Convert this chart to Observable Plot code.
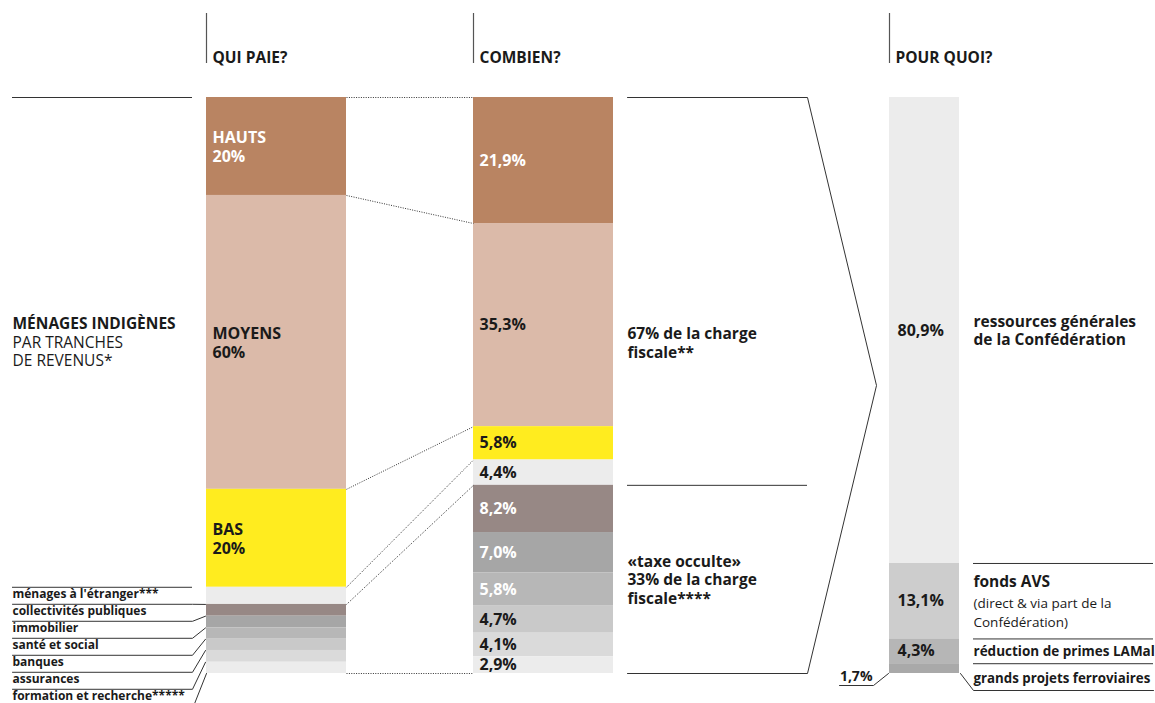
<!DOCTYPE html>
<html><head><meta charset="utf-8">
<script src="https://cdn.jsdelivr.net/npm/d3@7"></script>
<script src="https://cdn.jsdelivr.net/npm/@observablehq/plot@0.6"></script>
<style>
html,body{margin:0;padding:0;background:#fff}
</style>
</head><body><div id="chart"></div>
<script>
// ---------- DATA ----------
const headers = ["QUI PAIE?", "COMBIEN?", "POUR QUOI?"];
const householdTranches = ["HAUTS", "MOYENS", "BAS"];
const householdShares = [20, 60, 20];
const householdLabels = ["HAUTS\n20%", "MOYENS\n60%", "BAS\n20%"];
const otherPayers = ["ménages à l'étranger***", "collectivités publiques", "immobilier", "santé et social", "banques", "assurances", "formation et recherche*****"];
// nominal (non-proportional) band sizes of the other payers in the left column, in household-% units as drawn
const otherPayerBand = [3.5, 2.4, 2.4, 2.3, 2.3, 2.4, 2.3];
const amountValues = [21.9, 35.3, 5.8, 4.4, 8.2, 7.0, 5.8, 4.7, 4.1, 2.9];
const amountLabels = ["21,9%", "35,3%", "5,8%", "4,4%", "8,2%", "7,0%", "5,8%", "4,7%", "4,1%", "2,9%"];
const useCategories = ["ressources générales\nde la Confédération", "fonds AVS", "réduction de primes LAMal", "grands projets ferroviaires"];
const useValues = [80.9, 13.1, 4.3, 1.7];
const useLabels = ["80,9%", "13,1%", "4,3%", "1,7%"];
const groupLabel = ["MÉNAGES INDIGÈNES", "PAR TRANCHES\nDE REVENUS*"];
const chargeLabels = ["67% de la charge\nfiscale**", "«taxe occulte»\n33% de la charge\nfiscale****"];
const avsNote = "(direct & via part de la\nConfédération)";

// ---------- STYLE ----------
const whoColors = ["#b98462", "#dbbaa9", "#ffec1f", "#ececec", "#978885", "#a6a6a6", "#b7b7b7", "#c9c9c9", "#dadada", "#ececec"];
const amountColors = whoColors;
const amountText = ["#fff", "#1a1a1a", "#1a1a1a", "#1a1a1a", "#fff", "#fff", "#fff", "#1a1a1a", "#1a1a1a", "#1a1a1a"];
const householdText = ["#fff", "#1a1a1a", "#1a1a1a"];
const useColors = ["#ececec", "#cdcdcd", "#b6b6b6", "#a9a9a9"];
const INK = "#1a1a1a", LINE = "#333";
const FS = 15.5;

// ---------- LAYOUT ----------
const W = 1155, H = 703, TOP = 97, BOTTOM = 673;
const PX = (BOTTOM - TOP) / 100;
const u = px => px / PX;
const col = {who: [206, 346], amount: [473, 613], use: [889, 959]};
const leftX = [12, 192];
const bracketX = [627, 807, 876];
const rightX = [973, 1153];
const FONT = "'Open Sans', 'Noto Sans', sans-serif";

// ---------- DERIVED ----------
function stack(values) {
  const tot = d3.sum(values);
  const ends = d3.cumsum(values.map(v => v * 100 / tot));
  return values.map((v, i) => ({i, y1: i ? ends[i - 1] : 0, y2: ends[i], ym: ((i ? ends[i - 1] : 0) + ends[i]) / 2}));
}
const whoValues = householdShares.concat(otherPayerBand);
const who = stack(whoValues).map((d, i) => ({...d, fill: whoColors[i]}));
const amount = stack(amountValues).map((d, i) => ({...d, fill: amountColors[i], label: amountLabels[i], tc: amountText[i]}));
const use = stack(useValues).map((d, i) => ({...d, fill: useColors[i], label: useLabels[i], cat: useCategories[i]}));
const hhEnd = who[2].y2;

// dotted links between boundaries
const linkIdx = [0, 1, 2, 3, 4];
const links = linkIdx.map(i => ({a: who[i].y1, b: amount[i].y1}))
  .concat([{a: 100, b: 100}]);

// left stub label rows
const stubs = otherPayers.map((name, i) => ({
  name, ty: hhEnd + u(6.5 + 17 * i), ly: hhEnd + u(17 * (i + 1)), end: who[3 + i].y2, last: i === otherPayers.length - 1
}));
const stubLines = stubs.flatMap((s, i) => s.last
  ? [{k: i, x: leftX[1] + 1, y: s.ly}, {k: i, x: col.who[0], y: s.end}]
  : [{k: i, x: leftX[0], y: s.ly}, {k: i, x: leftX[1], y: s.ly}, {k: i, x: col.who[0] - 1, y: s.end}]);

const bracket = [
  {x: bracketX[0], y: 0}, {x: bracketX[1], y: 0}, {x: bracketX[2], y: 50},
  {x: bracketX[1], y: 100}, {x: bracketX[0], y: 100}
];
const split = amount[3].y2; // domestic households share (67%)

const chart = Plot.plot({
  width: W, height: H, margin: 0,
  x: {domain: [0, W], range: [0, W], axis: null},
  y: {domain: [0, 100], range: [TOP, BOTTOM], axis: null},
  color: {type: "identity"},
  style: {fontFamily: FONT, fontSize: "15px", color: INK, background: "#fff"},
  marks: [
    // headers
    Plot.ruleX([col.who[0], col.amount[0], col.use[0]], {x: d => d, y1: -u(84), y2: -u(34), stroke: "#555", strokeWidth: 1.2}),
    Plot.text(headers, {x: (d, i) => [col.who, col.amount, col.use][i][0] + 6, y: -u(39), text: d => d, textAnchor: "start", fontWeight: "bold", fontSize: FS, fill: INK}),

    // columns
    Plot.rect(who, {x1: col.who[0], x2: col.who[1], y1: "y1", y2: "y2", fill: "fill"}),
    Plot.rect(amount, {x1: col.amount[0], x2: col.amount[1], y1: "y1", y2: "y2", fill: "fill"}),
    Plot.rect(use, {x1: col.use[0], x2: col.use[1], y1: "y1", y2: "y2", fill: "fill"}),

    // dotted connectors
    Plot.link(links, {x1: col.who[1], x2: col.amount[0], y1: "a", y2: "b", stroke: LINE, strokeWidth: 1, strokeDasharray: "1,1.4"}),

    // household labels
    Plot.text(who.slice(0, 3), {x: col.who[0] + 6, y: "ym", text: (d, i) => householdLabels[i], fill: (d, i) => householdText[i], textAnchor: "start", lineAnchor: "middle", lineHeight: 1.2, fontWeight: "bold", fontSize: 16}),

    // amount labels
    Plot.text(amount, {x: col.amount[0] + 6, y: "ym", text: "label", fill: "tc", textAnchor: "start", lineAnchor: "middle", fontWeight: "bold", fontSize: 16}),

    // use labels (inside)
    Plot.text(use.slice(0, 3), {x: col.use[0] + 8, y: "ym", text: "label", fill: INK, textAnchor: "start", lineAnchor: "middle", fontWeight: "bold", fontSize: 16}),
    Plot.text([use[3]], {x: col.use[0] - 17, y: d => d.y2 + u(3), text: "label", fill: INK, textAnchor: "end", lineAnchor: "middle", fontWeight: "bold", fontSize: 14}),
    Plot.line([{x: col.use[0] - 50, y: 100 + u(12)}, {x: col.use[0] - 16, y: 100 + u(12)}, {x: col.use[0] - 1, y: 100}], {x: "x", y: "y", stroke: LINE, strokeWidth: 1}),

    // left group label
    Plot.ruleY([0, hhEnd], {x1: leftX[0], x2: leftX[1], stroke: LINE, strokeWidth: 1}),
    Plot.text([groupLabel[0]], {x: leftX[0], y: hhEnd / 2 - u(18), text: d => d, textAnchor: "start", lineAnchor: "middle", fontWeight: "bold", fontSize: FS, fill: INK}),
    Plot.text([groupLabel[1]], {x: leftX[0], y: hhEnd / 2 + u(9), text: d => d, textAnchor: "start", lineAnchor: "middle", lineHeight: 1.18, fontSize: FS, fill: INK}),

    // left stub labels
    Plot.text(stubs, {x: leftX[0], y: "ty", text: "name", textAnchor: "start", lineAnchor: "middle", fontWeight: "bold", fontSize: 12, fill: INK}),
    Plot.line(stubLines, {x: "x", y: "y", z: "k", stroke: LINE, strokeWidth: 1}),

    // middle bracket
    Plot.line(bracket, {x: "x", y: "y", stroke: LINE, strokeWidth: 1}),
    Plot.ruleY([split], {x1: bracketX[0], x2: bracketX[1], stroke: LINE, strokeWidth: 1}),
    Plot.text([chargeLabels[0]], {x: bracketX[0], y: hhEnd / 2, text: d => d, textAnchor: "start", lineAnchor: "middle", lineHeight: 1.25, fontWeight: "bold", fontSize: FS, fill: INK}),
    Plot.text([chargeLabels[1]], {x: bracketX[0], y: (split + 100) / 2, text: d => d, textAnchor: "start", lineAnchor: "middle", lineHeight: 1.2, fontWeight: "bold", fontSize: FS, fill: INK}),

    // right labels
    Plot.ruleY([use[1].y1, use[2].y1, use[3].y1], {x1: rightX[0], x2: rightX[1], stroke: LINE, strokeWidth: 1}),
    Plot.line([{x: col.use[1] + 1, y: 100}, {x: rightX[0], y: 100 + u(17)}, {x: rightX[1], y: 100 + u(17)}], {x: "x", y: "y", stroke: LINE, strokeWidth: 1}),
    Plot.text([use[0]], {x: rightX[0], y: "ym", text: "cat", textAnchor: "start", lineAnchor: "middle", lineHeight: 1.17, fontWeight: "bold", fontSize: FS, fill: INK}),
    Plot.text([use[1]], {x: rightX[0], y: d => d.y1 + u(19), text: "cat", textAnchor: "start", lineAnchor: "middle", fontWeight: "bold", fontSize: FS, fill: INK}),
    Plot.text([avsNote], {x: rightX[0], y: use[1].y1 + u(48), text: d => d, textAnchor: "start", lineAnchor: "middle", lineHeight: 1.4, fontSize: 13.5, fill: INK}),
    Plot.text([use[2]], {x: rightX[0], y: "ym", text: "cat", textAnchor: "start", lineAnchor: "middle", fontWeight: "bold", fontSize: 13.5, fill: INK}),
    Plot.text([use[3]], {x: rightX[0], y: d => d.y2 + u(5), text: "cat", textAnchor: "start", lineAnchor: "middle", fontWeight: "bold", fontSize: 13.3, fill: INK})
  ]
});
document.getElementById("chart").appendChild(chart);
</script>
</body></html>
